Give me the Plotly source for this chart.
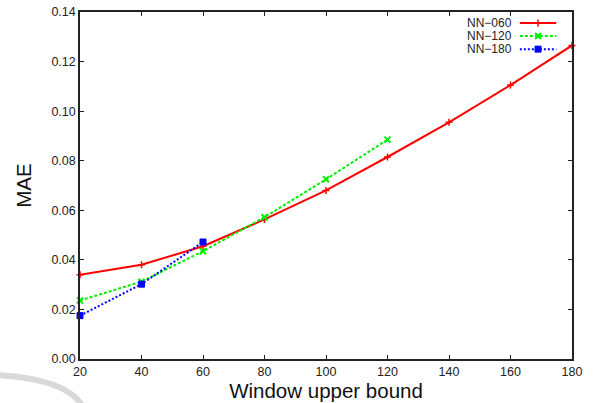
import plotly.graph_objects as go

# ---- data ----
x_060 = [20, 40, 60, 80, 100, 120, 140, 160, 180]
mae_060 = [0.034, 0.038, 0.0455, 0.0563, 0.068, 0.0815, 0.0955, 0.1105, 0.1265]
x_120 = [20, 40, 60, 80, 100, 120]
mae_120 = [0.0236, 0.0312, 0.0435, 0.0572, 0.0725, 0.0885]
x_180 = [20, 40, 60]
mae_180 = [0.0175, 0.0302, 0.0472]

series_names = ["NN\u2212060", "NN\u2212120", "NN\u2212180"]
x_ticks = [20, 40, 60, 80, 100, 120, 140, 160, 180]
y_ticks = [0.00, 0.02, 0.04, 0.06, 0.08, 0.10, 0.12, 0.14]

FONT = "Liberation Sans, Arial, Helvetica, sans-serif"
styles = [
    dict(color="#ff0000", dash="solid", symbol="cross-thin", msize=5, mlw=1.5),
    dict(color="#00ee00", dash="3px,2px", symbol="x-thin", msize=6, mlw=2),
    dict(color="#0000ff", dash="2px,2px", symbol="square", msize=6, mlw=1),
]

fig = go.Figure()
for (xs, ys), name, st in zip([(x_060, mae_060), (x_120, mae_120), (x_180, mae_180)], series_names, styles):
    fig.add_trace(go.Scatter(
        x=xs, y=ys, mode="lines+markers", name=name, showlegend=False,
        line=dict(color=st["color"], width=2, dash=st["dash"]),
        marker=dict(symbol=st["symbol"], size=st["msize"], color=st["color"],
                    line=dict(color=st["color"], width=st["mlw"])),
        cliponaxis=False,
    ))

# custom legend (gnuplot style: text then sample) on overlay axes
leg_y = [0.968, 0.931, 0.893]
for name, st, ly in zip(series_names, styles, leg_y):
    fig.add_trace(go.Scatter(
        x=[0.894, 0.931, 0.968], y=[ly, ly, ly], xaxis="x2", yaxis="y2",
        mode="lines", showlegend=False, hoverinfo="skip",
        line=dict(color=st["color"], width=2, dash=st["dash"]),
    ))
    fig.add_trace(go.Scatter(
        x=[0.931], y=[ly], xaxis="x2", yaxis="y2",
        mode="markers", showlegend=False, hoverinfo="skip",
        marker=dict(symbol=st["symbol"], size=st["msize"], color=st["color"],
                    line=dict(color=st["color"], width=st["mlw"])),
    ))
    fig.add_annotation(x=0.882, y=ly, xref="x2", yref="y2", text=name,
                       showarrow=False, xanchor="right", yanchor="middle",
                       font=dict(family=FONT, size=12, color="#222"))

fig.update_layout(
    width=594, height=403,
    margin=dict(l=80, r=22, t=12, b=44),
    paper_bgcolor="white", plot_bgcolor="white",
    font=dict(family=FONT, size=12.5, color="#222"),
    xaxis=dict(
        range=[20, 180], tickvals=x_ticks, ticktext=[str(v) for v in x_ticks],
        ticks="inside", ticklen=4, tickcolor="#222", showgrid=False, zeroline=False,
        showline=True, linecolor="#222", linewidth=1.5, mirror="ticks", automargin=False,
        title=dict(text="Window upper bound", font=dict(size=20.5, family=FONT, color="#111"), standoff=1),
        tickfont=dict(size=12.5),
    ),
    yaxis=dict(
        range=[0, 0.14], tickvals=y_ticks, ticktext=[f"{v:.2f}" for v in y_ticks],
        ticks="inside", ticklen=4, tickcolor="#222", showgrid=False, zeroline=False,
        showline=True, linecolor="#222", linewidth=1.5, mirror="ticks", automargin=False,
        title=dict(text="MAE", font=dict(size=20.5, family=FONT, color="#111"), standoff=14),
        tickfont=dict(size=12.5),
    ),
    xaxis2=dict(range=[0, 1], overlaying="x", visible=False, fixedrange=True, automargin=False),
    yaxis2=dict(range=[0, 1], overlaying="y", visible=False, fixedrange=True, automargin=False),
    shapes=[dict(type="path", xref="paper", yref="paper",
                 path="M -0.175,-0.046 Q -0.03,-0.055 0.005,-0.135",
                 line=dict(color="#d9d9d9", width=6), layer="below")],
)

fig.write_html("out.html", config={"displayModeBar": False},
               post_script="document.body.style.margin='0';")
